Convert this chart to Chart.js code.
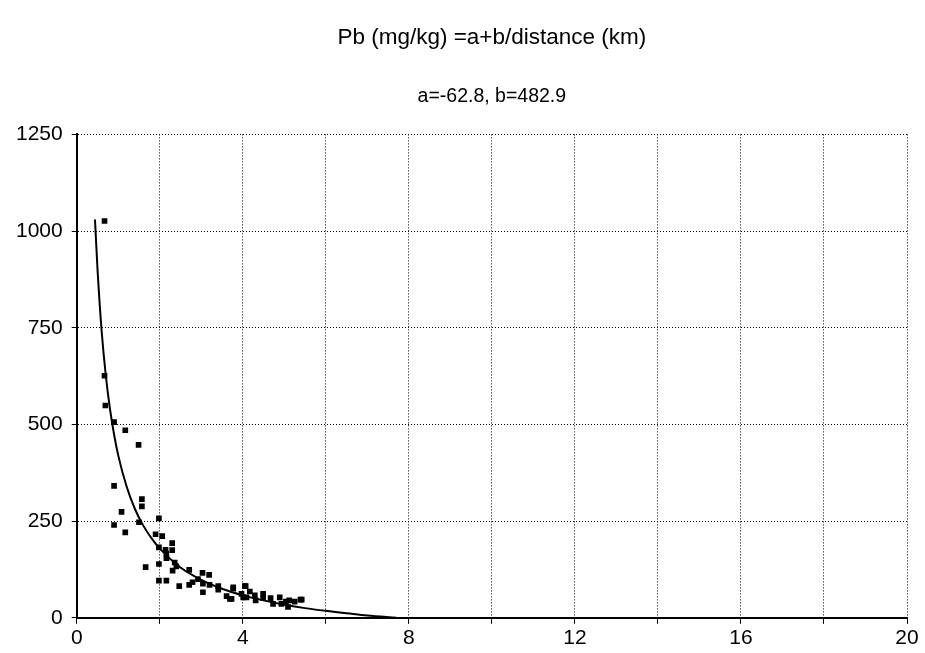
<!DOCTYPE html>
<html>
<head>
<meta charset="utf-8">
<script src="https://cdn.jsdelivr.net/npm/chart.js@4/dist/chart.umd.min.js"></script>
<style>
    html, body { margin: 0; padding: 0; background: #fff; }
    #wrap { width: 925px; height: 653px; }
</style>
</head>
<body>
<div id="wrap"><canvas id="chart"></canvas></div>
<script>
// measured samples: distance (km) and Pb (mg/kg)
const sampleX = [0.67, 0.67, 0.69, 0.90, 1.17, 1.49, 0.90, 1.57, 1.57, 1.08,
                 0.90, 1.17, 1.50, 1.98, 1.90, 2.06, 2.30, 1.98, 2.14, 2.30,
                 2.16, 1.98, 1.66, 2.40, 2.16, 2.36, 2.31, 2.47, 1.98, 2.16,
                 2.71, 2.79, 2.71, 2.92, 3.03, 3.19, 3.04, 3.04, 3.20, 3.41,
                 3.41, 3.61, 3.69, 3.77, 4.05, 4.09, 3.97, 3.77, 3.73, 4.07,
                 4.01, 4.17, 4.29, 4.31, 4.49, 4.49, 4.67, 4.73, 4.89, 4.93,
                 5.04, 5.09, 5.12, 5.25, 5.39, 5.42];
const sampleY = [1026, 626, 549, 506, 485, 447, 341, 307, 288, 274,
                 240, 221, 247, 257, 216, 211, 193, 182, 176, 175,
                 154, 139, 131, 133, 166, 143, 122, 82, 96, 96,
                 124, 92, 85, 100, 116, 111, 88, 66, 85, 82,
                 73, 56, 49, 79, 82, 53, 62, 75, 49, 82,
                 53, 68, 58, 45, 62, 51, 51, 36, 53, 36,
                 42, 28, 45, 42, 47, 47];

// fitted curve a+b/x
const fitX = [0.44, 0.5, 0.6, 0.7, 0.8, 0.9, 1.0, 1.2, 1.4, 1.6, 1.8, 2.0,
              2.5, 3.0, 3.5, 4.0, 4.5, 5.0, 5.5, 6.0, 6.5, 7.0, 7.7];
const fitY = [1030, 903, 742, 627, 541, 474, 420, 340, 282, 239, 206, 179,
              130, 98, 75, 58, 45, 34, 25, 18, 12, 6, 0];

const xTicks = [0, 4, 8, 12, 16, 20];
const yTicks = [0, 250, 500, 750, 1000, 1250];

const titleText = "Pb (mg/kg) =a+b/distance (km)";
const subtitleText = "a=-62.8, b=482.9";

const FONT = "'Liberation Sans', Arial, sans-serif";

function toPoints(xs, ys) {
    return xs.map((x, i) => ({ x: x, y: ys[i] }));
}

new Chart(document.getElementById("chart"), {
    type: "scatter",
    data: {
        datasets: [
            {
                data: toPoints(fitX, fitY),
                showLine: true,
                borderColor: "#000",
                borderWidth: 2,
                pointRadius: 0,
                cubicInterpolationMode: "monotone",
                order: 2,
            },
            {
                data: toPoints(sampleX, sampleY),
                pointStyle: "rect",
                pointRadius: 4,
                backgroundColor: "#000",
                borderColor: "#000",
                borderWidth: 0,
                order: 1,
            },
        ],
    },
    options: {
        responsive: true,
        maintainAspectRatio: false,
        animation: false,
        layout: { padding: { left: 7, right: 18, top: 0, bottom: 0 } },
        plugins: {
            legend: { display: false },
            tooltip: { enabled: false },
            title: {
                display: true,
                fullSize: false,                    // centre over the plot area
                text: titleText,
                color: "#000",
                font: { family: FONT, size: 22.5, weight: "normal" },
                padding: { top: 24, bottom: 0 },
            },
            subtitle: {
                display: true,
                fullSize: false,
                text: subtitleText,
                color: "#000",
                font: { family: FONT, size: 19.5, weight: "normal" },
                padding: { top: 34, bottom: 26 },
            },
        },
        scales: {
            x: {
                type: "linear",
                min: 0, max: 20,
                afterBuildTicks: axis => {
                    axis.ticks = [];
                    for (let v = 0; v <= 20; v += 2) axis.ticks.push({ value: v });
                },
                ticks: {
                    color: "#000",
                    padding: 2,
                    maxRotation: 0,
                    font: { family: FONT, size: 21 },
                    callback: v => xTicks.includes(v) ? String(v) : "",
                },
                grid: { color: "#000", lineWidth: 1, tickLength: 6, tickColor: "#000" },
                border: { color: "#000", width: 2, dash: [1, 2] },
            },
            y: {
                type: "linear",
                min: 0, max: 1250,
                afterBuildTicks: axis => {
                    axis.ticks = yTicks.map(v => ({ value: v }));
                },
                ticks: {
                    color: "#000",
                    padding: 9,
                    font: { family: FONT, size: 21 },
                    callback: v => String(v),
                },
                grid: { color: "#000", lineWidth: 1, tickLength: 5, tickColor: "#000" },
                border: { color: "#000", width: 2, dash: [1, 2] },
            },
        },
    },
});
</script>
</body>
</html>
